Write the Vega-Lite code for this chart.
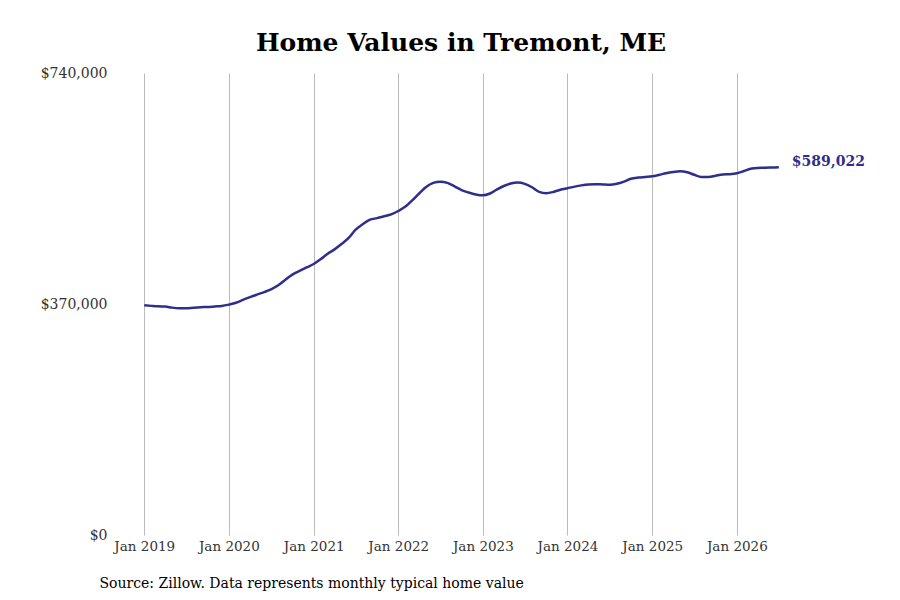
{
  "$schema": "https://vega.github.io/schema/vega-lite/v6.json",
  "autosize": {"type": "none"},
  "padding": {"left": 116, "top": 73, "right": 114, "bottom": 65},
  "width": 670,
  "height": 462,
  "background": "white",
  "config": {
    "font": "DejaVu Serif",
    "view": {"stroke": null}
  },
  "title": {
    "text": "Home Values in Tremont, ME",
    "font": "DejaVu Serif",
    "fontSize": 25,
    "fontWeight": "bold",
    "color": "#000000",
    "anchor": "middle",
    "offset": 10,
    "dx": 10
  },
  "data": {
    "values": [
      {"date": "2019-01-01", "value": 368000},
      {"date": "2019-02-01", "value": 367000},
      {"date": "2019-03-01", "value": 366200},
      {"date": "2019-04-01", "value": 365800},
      {"date": "2019-05-01", "value": 364200},
      {"date": "2019-06-01", "value": 363200},
      {"date": "2019-07-01", "value": 363000},
      {"date": "2019-08-01", "value": 364000},
      {"date": "2019-09-01", "value": 364800},
      {"date": "2019-10-01", "value": 365200},
      {"date": "2019-11-01", "value": 366000},
      {"date": "2019-12-01", "value": 366800},
      {"date": "2020-01-01", "value": 369000},
      {"date": "2020-02-01", "value": 372000},
      {"date": "2020-03-01", "value": 376500},
      {"date": "2020-04-01", "value": 381000},
      {"date": "2020-05-01", "value": 385000},
      {"date": "2020-06-01", "value": 389000},
      {"date": "2020-07-01", "value": 393500},
      {"date": "2020-08-01", "value": 400000},
      {"date": "2020-09-01", "value": 409000},
      {"date": "2020-10-01", "value": 417000},
      {"date": "2020-11-01", "value": 423000},
      {"date": "2020-12-01", "value": 428500},
      {"date": "2021-01-01", "value": 434000},
      {"date": "2021-02-01", "value": 442000},
      {"date": "2021-03-01", "value": 450000},
      {"date": "2021-04-01", "value": 457500},
      {"date": "2021-05-01", "value": 466000},
      {"date": "2021-06-01", "value": 476000},
      {"date": "2021-07-01", "value": 489000},
      {"date": "2021-08-01", "value": 498000},
      {"date": "2021-09-01", "value": 505000},
      {"date": "2021-10-01", "value": 507500},
      {"date": "2021-11-01", "value": 510500},
      {"date": "2021-12-01", "value": 513500},
      {"date": "2022-01-01", "value": 519000},
      {"date": "2022-02-01", "value": 526000},
      {"date": "2022-03-01", "value": 535500},
      {"date": "2022-04-01", "value": 547000},
      {"date": "2022-05-01", "value": 557500},
      {"date": "2022-06-01", "value": 564000},
      {"date": "2022-07-01", "value": 566000},
      {"date": "2022-08-01", "value": 564000},
      {"date": "2022-09-01", "value": 558500},
      {"date": "2022-10-01", "value": 552500},
      {"date": "2022-11-01", "value": 548500},
      {"date": "2022-12-01", "value": 545500},
      {"date": "2023-01-01", "value": 544000},
      {"date": "2023-02-01", "value": 547000},
      {"date": "2023-03-01", "value": 553000},
      {"date": "2023-04-01", "value": 559000},
      {"date": "2023-05-01", "value": 563000},
      {"date": "2023-06-01", "value": 564500},
      {"date": "2023-07-01", "value": 562500},
      {"date": "2023-08-01", "value": 557000},
      {"date": "2023-09-01", "value": 549500},
      {"date": "2023-10-01", "value": 547500},
      {"date": "2023-11-01", "value": 549500},
      {"date": "2023-12-01", "value": 553000},
      {"date": "2024-01-01", "value": 555500},
      {"date": "2024-02-01", "value": 558000},
      {"date": "2024-03-01", "value": 560000},
      {"date": "2024-04-01", "value": 561500},
      {"date": "2024-05-01", "value": 562000},
      {"date": "2024-06-01", "value": 561500},
      {"date": "2024-07-01", "value": 561000},
      {"date": "2024-08-01", "value": 562500},
      {"date": "2024-09-01", "value": 566000},
      {"date": "2024-10-01", "value": 570500},
      {"date": "2024-11-01", "value": 572500},
      {"date": "2024-12-01", "value": 573500},
      {"date": "2025-01-01", "value": 574500},
      {"date": "2025-02-01", "value": 577000},
      {"date": "2025-03-01", "value": 579500},
      {"date": "2025-04-01", "value": 581500},
      {"date": "2025-05-01", "value": 582500},
      {"date": "2025-06-01", "value": 581000},
      {"date": "2025-07-01", "value": 577000},
      {"date": "2025-08-01", "value": 573500},
      {"date": "2025-09-01", "value": 573500},
      {"date": "2025-10-01", "value": 575500},
      {"date": "2025-11-01", "value": 577500},
      {"date": "2025-12-01", "value": 578000},
      {"date": "2026-01-01", "value": 579500},
      {"date": "2026-02-01", "value": 583000},
      {"date": "2026-03-01", "value": 586500},
      {"date": "2026-04-01", "value": 588000},
      {"date": "2026-05-01", "value": 588200},
      {"date": "2026-06-01", "value": 588600},
      {"date": "2026-07-01", "value": 589022, "label": "$589,022"}
    ]
  },
  "encoding": {
    "x": {
      "field": "date",
      "type": "temporal",
      "scale": {"domain": ["2018-09-01T00:00:00", "2026-08-01T00:00:00"]},
      "axis": {
        "format": "%b %Y",
        "tickCount": {"interval": "year", "step": 1},
        "grid": true,
        "gridColor": "#bbbbbb",
        "gridWidth": 1,
        "domain": false,
        "ticks": false,
        "labelFont": "DejaVu Serif",
        "labelFontSize": 13.5,
        "labelColor": "#333333",
        "labelPadding": 4,
        "title": "Source: Zillow. Data represents monthly typical home value",
        "titleFont": "DejaVu Serif",
        "titleFontSize": 14,
        "titleFontWeight": "normal",
        "titleColor": "#000000",
        "titleAnchor": "start",
        "titleAlign": "left",
        "titleBaseline": "alphabetic",
        "titleX": -17,
        "titleY": 52
      }
    },
    "y": {
      "field": "value",
      "type": "quantitative",
      "scale": {"domain": [0, 740000], "nice": false, "zero": true},
      "axis": {
        "values": [0, 370000, 740000],
        "format": "$,.0f",
        "grid": false,
        "domain": false,
        "ticks": false,
        "labelFont": "DejaVu Serif",
        "labelFontSize": 14,
        "labelColor": "#333333",
        "labelPadding": 9,
        "title": null
      }
    }
  },
  "layer": [
    {
      "mark": {"type": "line", "color": "#2e2e8c", "strokeWidth": 2.5, "interpolate": "monotone"}
    },
    {
      "transform": [{"filter": "datum.label != null"}],
      "mark": {"type": "text", "align": "left", "baseline": "middle", "dx": 13, "dy": -5, "fontSize": 14, "fontWeight": "bold", "color": "#2e2e8c", "font": "DejaVu Serif"},
      "encoding": {"text": {"field": "label"}}
    }
  ]
}
